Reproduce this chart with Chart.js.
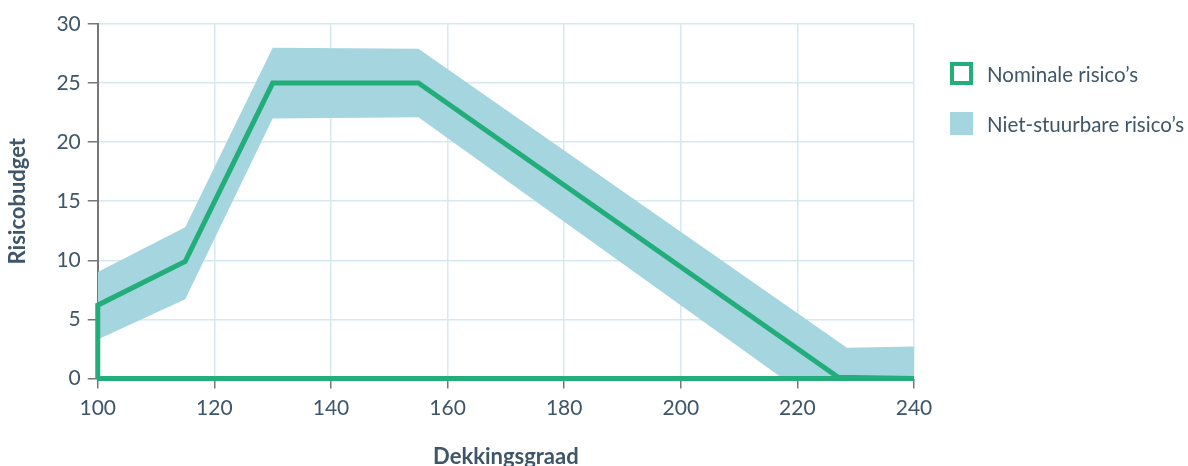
<!DOCTYPE html>
<html>
<head>
<meta charset="utf-8">
<script src="https://cdn.jsdelivr.net/npm/chart.js@4.4.1/dist/chart.umd.min.js"></script>
<style>
html,body{margin:0;padding:0;background:#fff;overflow:hidden;}
#wrap{position:relative;width:1188px;height:466px;overflow:hidden;}
#legend{position:absolute;left:950px;top:61px;font-family:Lato,"Open Sans",sans-serif;font-size:20.5px;color:#3f5569;}
.item{display:flex;align-items:center;height:25px;margin-bottom:25px;}
.sw{width:23px;height:23px;box-sizing:border-box;margin-right:14px;}
</style>
</head>
<body>
<div id="wrap">
<canvas id="c" width="1188" height="470"></canvas>
<div id="legend"></div>
</div>
<script>
const xTicks = [100, 120, 140, 160, 180, 200, 220, 240];
const yTicks = [0, 5, 10, 15, 20, 25, 30];
const seriesNames = ["Nominale risico\u2019s", "Niet-stuurbare risico\u2019s"];
const nominalX = [100, 100, 115, 130, 155, 227, 240, 100];
const nominalY = [0, 6.2, 9.9, 25, 25, 0.1, 0, 0];
const upperX = [100, 115, 130, 155, 228.5, 240];
const upperY = [9.0, 12.8, 28.0, 27.9, 2.6, 2.7];
const lowerX = [100, 115, 130, 155, 217.5, 240];
const lowerY = [3.3, 6.7, 22.0, 22.1, 0, 0];

const green = '#23ad7a';
const blue = '#a5d5df';
const textColor = '#3f5569';
const font = 'Lato, "Open Sans", sans-serif';

const pts = (xs, ys) => xs.map((x, i) => ({x: x, y: ys[i]}));

new Chart(document.getElementById('c'), {
  type: 'line',
  data: {
    datasets: [
      {label: seriesNames[0], data: pts(nominalX, nominalY), borderColor: green, borderWidth: 5,
       pointRadius: 0, fill: false, tension: 0, borderJoinStyle: 'miter', order: 0,
       clip: {left: 6, top: 6, right: 6, bottom: 6}},
      {label: seriesNames[1], data: pts(upperX, upperY), borderColor: 'rgba(0,0,0,0)', borderWidth: 0,
       backgroundColor: blue, pointRadius: 0, fill: '+1', tension: 0, order: 1},
      {label: 'lower', data: pts(lowerX, lowerY), borderColor: 'rgba(0,0,0,0)', borderWidth: 0,
       pointRadius: 0, fill: false, tension: 0, order: 2}
    ]
  },
  options: {
    responsive: false,
    animation: false,
    layout: {padding: {left: 5, right: 274, top: 24, bottom: 0}},
    plugins: {legend: {display: false}, tooltip: {enabled: false}},
    scales: {
      x: {
        type: 'linear', min: 100, max: 240,
        afterBuildTicks: s => { s.ticks = xTicks.map(v => ({value: v})); },
        grid: {color: '#d5e9ef', lineWidth: 1.5, tickColor: '#777', tickLength: 10},
        border: {color: '#d5e9ef'},
        ticks: {color: textColor, font: {family: font, size: 21}, padding: 7, maxRotation: 0},
        title: {display: true, text: 'Dekkingsgraad', color: textColor,
                font: {family: font, size: 22, weight: 'bold'}, padding: {top: 16, bottom: 0}}
      },
      y: {
        type: 'linear', min: 0, max: 30,
        afterBuildTicks: s => { s.ticks = yTicks.map(v => ({value: v})); },
        grid: {color: '#d5e9ef', lineWidth: 1.5, tickColor: '#777', tickLength: 10},
        border: {color: '#777', width: 2},
        ticks: {color: textColor, font: {family: font, size: 21}, padding: 7},
        title: {display: true, text: 'Risicobudget', color: textColor,
                font: {family: font, size: 22, weight: 'bold'}, padding: {top: 0, bottom: 18}}
      }
    }
  }
});

const lg = document.getElementById('legend');
lg.innerHTML =
  '<div class="item"><div class="sw" style="border:4px solid ' + green + ';background:#fff"></div><span>' + seriesNames[0] + '</span></div>' +
  '<div class="item"><div class="sw" style="background:' + blue + '"></div><span>' + seriesNames[1] + '</span></div>';
</script>
</body>
</html>
